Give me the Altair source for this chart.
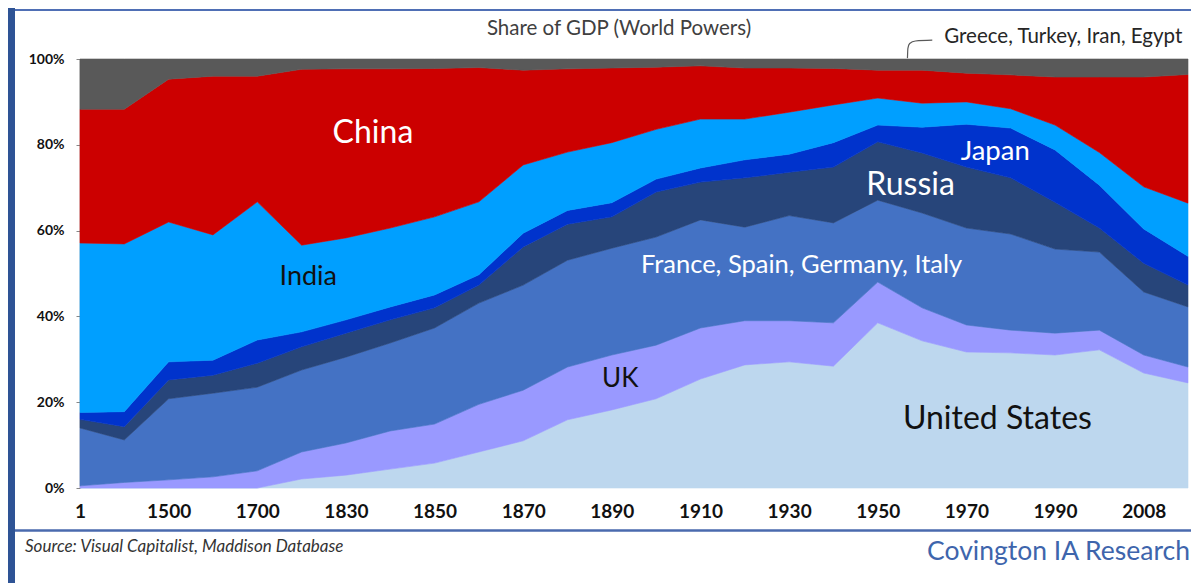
import altair as alt
import pandas as pd

years = ["1", "1000", "1500", "1600", "1700", "1820", "1830", "1840", "1850", "1860",
         "1870", "1880", "1890", "1900", "1910", "1920", "1930", "1940", "1950", "1960",
         "1970", "1980", "1990", "2000", "2008", "2015"]

series = ["United States", "UK", "France, Spain, Germany, Italy", "Russia", "Japan",
          "India", "China", "Greece, Turkey, Iran, Egypt"]
colors = ["#BDD7EE", "#9999FF", "#4472C4", "#27457A", "#0033CC", "#009FFF", "#CC0000", "#595959"]

us = [0, 0, 0, 0, 0, 2.1, 3.0, 4.4, 5.8, 8.4, 11.0, 15.9, 18.2, 20.8, 25.4, 28.7, 29.4,
      28.4, 38.5, 34.3, 31.7, 31.5, 31.0, 32.2, 26.8, 24.5]
uk = [0.5, 1.3, 1.9, 2.6, 4.0, 6.3, 7.5, 8.9, 9.1, 11.1, 11.8, 12.3, 12.8, 12.5, 11.9,
      10.3, 9.6, 10.1, 9.5, 7.7, 6.3, 5.3, 5.1, 4.6, 4.2, 3.7]
europe = [13.5, 9.9, 18.9, 19.5, 19.5, 19.1, 20.0, 20.5, 22.4, 23.6, 24.5, 24.9, 24.9,
          25.2, 25.2, 21.8, 24.5, 23.3, 19.1, 22.1, 22.6, 22.4, 19.6, 18.2, 14.7, 14.0]
russia = [2.0, 3.1, 4.4, 4.2, 5.6, 5.4, 5.6, 5.4, 4.7, 4.2, 8.9, 8.4, 7.3, 10.5, 8.8,
          11.5, 10.1, 13.0, 13.6, 14.0, 14.2, 13.1, 10.9, 5.6, 6.7, 5.1]
japan = [1.6, 3.5, 4.2, 3.5, 5.4, 3.5, 3.1, 3.0, 3.0, 2.4, 3.2, 3.2, 3.3, 3.0, 3.3, 4.2,
         4.2, 5.7, 3.9, 6.0, 10.0, 11.6, 12.2, 10.0, 8.0, 6.7]
india = [39.5, 39.1, 32.6, 29.2, 32.2, 20.2, 19.1, 18.4, 18.2, 17.0, 15.9, 13.6, 14.0,
         11.6, 11.4, 9.5, 9.8, 8.8, 6.3, 5.6, 5.2, 4.5, 5.8, 7.6, 9.8, 12.4]
china = [31.2, 31.4, 33.3, 37.0, 29.3, 41.0, 39.4, 37.1, 34.6, 31.3, 22.1, 19.4, 17.4,
         14.5, 12.4, 11.9, 10.3, 8.5, 6.5, 7.7, 6.7, 7.9, 11.2, 17.6, 25.6, 30.0]
other = [11.7, 11.7, 4.7, 4.0, 4.0, 2.4, 2.3, 2.3, 2.2, 2.0, 2.6, 2.3, 2.1, 1.9, 1.6,
         2.1, 2.1, 2.2, 2.6, 2.6, 3.3, 3.7, 4.2, 4.2, 4.2, 3.6]

values = [us, uk, europe, russia, japan, india, china, other]
rows = []
for k, (name, vals) in enumerate(zip(series, values)):
    for i, v in enumerate(vals):
        rows.append({"idx": i, "year": years[i], "series": name, "share": v, "ord": k})
df = pd.DataFrame(rows)

FONT = "Lato"
xs = alt.Scale(domain=[0, len(years) - 1], nice=False, zero=False)
ys = alt.Scale(domain=[0, 100], nice=False)

label_expr = "[" + ",".join("'%s'" % y for y in years) + "][datum.value]"

area = alt.Chart(df).mark_area(strokeWidth=0.6).encode(
    x=alt.X("idx:Q", scale=xs, axis=alt.Axis(
        values=list(range(0, 25, 2)), labelExpr=label_expr, title=None, domain=False,
        ticks=False, grid=False, labelFont=FONT, labelFontWeight="bold", labelFontSize=19,
        labelColor="#111111", labelPadding=14, labelFlush=False, labelOverlap=False)),
    y=alt.Y("share:Q", stack="zero", scale=ys, axis=alt.Axis(
        values=[0, 20, 40, 60, 80, 100], labelExpr="datum.value + '%'", title=None,
        grid=False, domain=True, domainColor="#868686", domainWidth=1.5, ticks=True,
        tickColor="#868686", tickSize=4, labelFont=FONT, labelFontWeight="bold",
        labelFontSize=14, labelColor="#111111", labelPadding=12)),
    color=alt.Color("series:N", scale=alt.Scale(domain=series, range=colors), legend=None),
    stroke=alt.Stroke("series:N", scale=alt.Scale(domain=series, range=colors), legend=None),
    order=alt.Order("ord:Q", sort="ascending"),
)

# in-chart labels (data units: category index, percent)
annotations = [
    ("China", 6.61, 80.4, "#FFFFFF", 32),
    ("India", 5.15, 47.3, "#111111", 27),
    ("UK", 12.19, 23.5, "#111111", 26),
    ("France, Spain, Germany, Italy", 16.28, 50.1, "#FFFFFF", 25.5),
    ("Russia", 18.74, 68.3, "#FFFFFF", 32),
    ("Japan", 20.65, 76.5, "#FFFFFF", 27.5),
    ("United States", 20.70, 13.8, "#111111", 32),
]

layers = [area]
for text, xi, yi, col, fs in annotations:
    d = pd.DataFrame({"idx": [xi], "share": [yi], "t": [text]})
    layers.append(alt.Chart(d).mark_text(
        font=FONT, fontSize=fs, color=col, align="center", baseline="alphabetic", clip=False
    ).encode(x=alt.X("idx:Q", scale=xs), y=alt.Y("share:Q", scale=ys), text="t:N"))

# callout for the top (gray) series
callout = pd.DataFrame({"idx": [19.23, 18.85, 18.72, 18.68, 18.67],
                        "share": [104.4, 104.2, 103.6, 102.5, 100.2],
                        "o": [0, 1, 2, 3, 4]})
layers.append(alt.Chart(callout).mark_line(color="#595959", strokeWidth=1.2, clip=False,
                                           interpolate="monotone").encode(
    x=alt.X("idx:Q", scale=xs), y=alt.Y("share:Q", scale=ys), order="o:Q"))

gdf = pd.DataFrame({"idx": [19.5], "share": [103.7], "t": [series[-1]]})
layers.append(alt.Chart(gdf).mark_text(font=FONT, fontSize=20.5, color="#262626", align="left",
                                       baseline="alphabetic", clip=False).encode(
    x=alt.X("idx:Q", scale=xs), y=alt.Y("share:Q", scale=ys), text="t:N"))

one = pd.DataFrame({"k": [0]})

title = alt.Chart(one).mark_text(text="Share of GDP (World Powers)", font=FONT, fontSize=20.5,
                                 color="#404040", align="center", baseline="alphabetic").encode(
    x=alt.value(539), y=alt.value(-24))
source = alt.Chart(one).mark_text(text="Source: Visual Capitalist, Maddison Database", font=FONT,
                                  fontSize=17, fontStyle="italic", color="#333333", align="left",
                                  baseline="alphabetic").encode(x=alt.value(-55), y=alt.value(493))
brand = alt.Chart(one).mark_text(text="Covington IA Research", font=FONT, fontSize=26.5,
                                 color="#3E65AC", align="right", baseline="alphabetic").encode(
    x=alt.value(1110), y=alt.value(501))

top_line = alt.Chart(one).mark_rule(color="#4F6FB5", strokeWidth=2).encode(
    x=alt.value(-65), x2=alt.value(1119), y=alt.value(-49))
bottom_line = alt.Chart(one).mark_rule(color="#4A6AAE", strokeWidth=2.5).encode(
    x=alt.value(-65), x2=alt.value(1119), y=alt.value(471.5))
left_bar = alt.Chart(one).mark_rect(color="#2E5395").encode(
    x=alt.value(-80), x2=alt.value(-65), y=alt.value(-59), y2=alt.value(524))

layers += [title, source, brand, top_line, bottom_line, left_bar]

chart = alt.layer(*layers).properties(
    width=1108, height=429,
    autosize=alt.AutoSizeParams(type="none"),
    padding={"left": 72, "top": 51, "right": 3, "bottom": 95},
    background="white",
).configure_view(stroke=None)

chart.save("out.html", embed_options={"renderer": "svg", "actions": False})
